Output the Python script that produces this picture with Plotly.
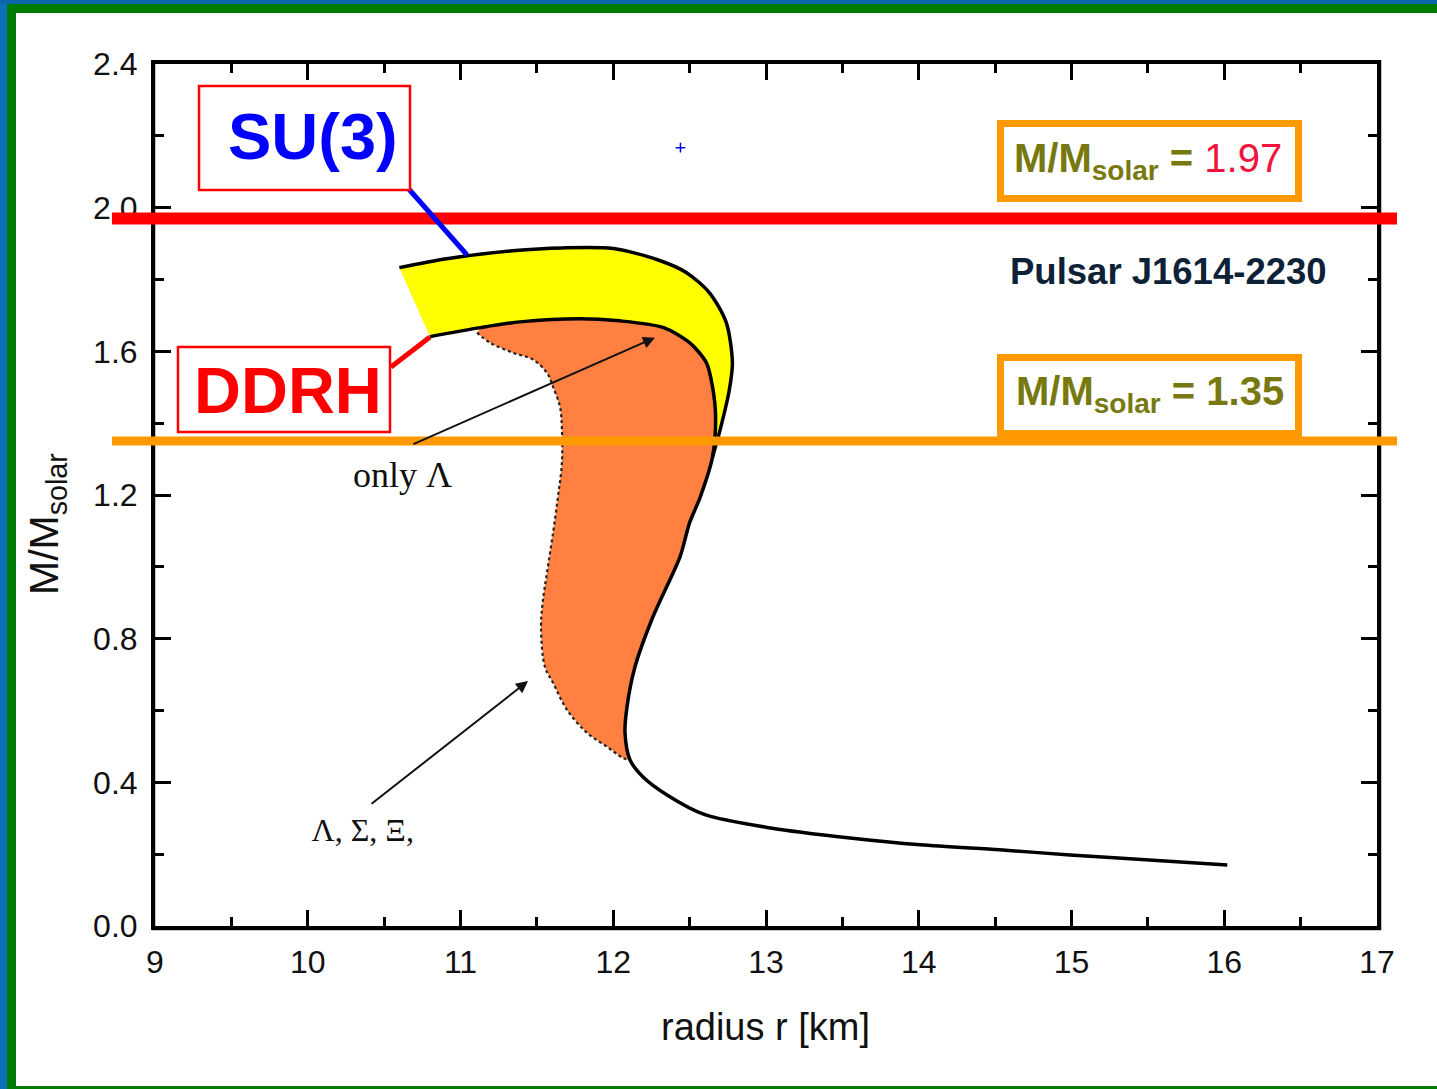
import plotly.graph_objects as go

# ---- mass-radius data (radius in km, mass in solar masses) ----
# SU(3) model: upper branch of the band
r_su3 = [10.60, 10.91, 11.34, 11.67, 12.00, 12.29, 12.48, 12.63, 12.74, 12.78, 12.76, 12.70, 12.65]
m_su3 = [1.833, 1.858, 1.880, 1.888, 1.886, 1.855, 1.819, 1.763, 1.680, 1.568, 1.493, 1.382, 1.306]

# DDRH model: full curve down to the low-mass tail
r_ddrh = [10.80, 11.13, 11.39, 11.78, 12.04, 12.33, 12.50, 12.61, 12.65, 12.67, 12.65, 12.57,
          12.50, 12.437, 12.26, 12.142, 12.09, 12.077, 12.11, 12.195, 12.352, 12.60, 13.03,
          13.55, 14.01, 14.53, 14.99, 15.51, 16.02]
m_ddrh = [1.641, 1.666, 1.682, 1.691, 1.685, 1.666, 1.624, 1.568, 1.501, 1.418, 1.306, 1.195,
          1.123, 1.028, 0.861, 0.721, 0.610, 0.538, 0.462, 0.415, 0.365, 0.310, 0.273,
          0.245, 0.226, 0.212, 0.198, 0.184, 0.170]

# Hyperon (Λ, Σ, Ξ) branch: inner edge of the shaded region
r_hyp = [11.108, 11.193, 11.344, 11.475, 11.566, 11.606, 11.651, 11.664, 11.664, 11.638,
         11.606, 11.566, 11.540, 11.527, 11.553, 11.606, 11.697, 11.828, 11.959, 12.064]
m_hyp = [1.652, 1.624, 1.596, 1.577, 1.540, 1.501, 1.446, 1.382, 1.290, 1.195,
         1.095, 0.983, 0.908, 0.833, 0.721, 0.677, 0.602, 0.538, 0.499, 0.468]

# Observed neutron-star masses (solar units)
pulsar_mass = 1.97
canonical_mass = 1.35
pulsar_name = "Pulsar J1614-2230"

x_ticks = [9, 10, 11, 12, 13, 14, 15, 16, 17]
y_ticks = [0.0, 0.4, 0.8, 1.2, 1.6, 2.0, 2.4]

# ---- page geometry ----
FIG_W, FIG_H = 1437, 1089
L, R, T, B = 155, 1377, 64, 926
PW, PH = R - L, B - T


def xp(px):
    return (px - L) / PW


def yp(py):
    return (B - py) / PH


SANS = "Liberation Sans, Arial, sans-serif"
SERIF = "Liberation Serif, Times New Roman, serif"
OLIVE = "#77780f"

fig = go.Figure()

# yellow band between SU(3) and DDRH upper branches
n_top = r_ddrh.index(12.65, 8)
band_x = r_su3 + r_ddrh[:n_top + 1][::-1]
band_y = m_su3 + m_ddrh[:n_top + 1][::-1]
fig.add_trace(go.Scatter(x=band_x, y=band_y, fill="toself", fillcolor="#ffff00",
                         mode="lines", line=dict(width=0, shape="spline", smoothing=0.6),
                         hoverinfo="skip", showlegend=False))

# orange region covered by the hyperon branches
n_low = r_ddrh.index(12.11)
hyp_x = r_ddrh[1:n_low + 1] + r_hyp[::-1]
hyp_y = m_ddrh[1:n_low + 1] + m_hyp[::-1]
fig.add_trace(go.Scatter(x=hyp_x, y=hyp_y, fill="toself", fillcolor="#ff8040",
                         mode="lines", line=dict(width=0, shape="spline", smoothing=0.6),
                         hoverinfo="skip", showlegend=False))

# dotted inner edge
fig.add_trace(go.Scatter(x=r_hyp + [r_ddrh[n_low]], y=m_hyp + [m_ddrh[n_low]], mode="lines",
                         line=dict(color="#222222", width=2.2, dash="dot", shape="spline"),
                         hoverinfo="skip", showlegend=False))

# model curves
fig.add_trace(go.Scatter(x=r_su3, y=m_su3, mode="lines",
                         line=dict(color="black", width=3.5, shape="spline", smoothing=0.8),
                         hoverinfo="skip", showlegend=False))
fig.add_trace(go.Scatter(x=r_ddrh, y=m_ddrh, mode="lines",
                         line=dict(color="black", width=3.5, shape="spline", smoothing=0.8),
                         hoverinfo="skip", showlegend=False))

# small marker near the top
fig.add_trace(go.Scatter(x=[12.44], y=[2.167], mode="markers",
                         marker=dict(symbol="cross-thin", size=7, line=dict(color="#0000ff", width=1.5)),
                         hoverinfo="skip", showlegend=False))

# composition labels
fig.add_trace(go.Scatter(x=[10.62, 10.36], y=[1.248, 0.259], mode="text",
                         text=["only Λ", "Λ, Σ, Ξ,"],
                         textfont=dict(family=SERIF, size=[36, 32], color="#111111"),
                         hoverinfo="skip", showlegend=False))

shapes = []
# page frame
shapes += [
    dict(type="rect", xref="paper", yref="paper", x0=xp(0), x1=xp(7), y0=yp(FIG_H), y1=yp(0),
         fillcolor="#0a70b8", line=dict(width=0), layer="above"),
    dict(type="rect", xref="paper", yref="paper", x0=xp(0), x1=xp(FIG_W), y0=yp(4), y1=yp(0),
         fillcolor="#0a66a8", line=dict(width=0), layer="above"),
    dict(type="rect", xref="paper", yref="paper", x0=xp(7), x1=xp(16), y0=yp(FIG_H), y1=yp(4),
         fillcolor="#007d00", line=dict(width=0), layer="above"),
    dict(type="rect", xref="paper", yref="paper", x0=xp(7), x1=xp(FIG_W), y0=yp(13), y1=yp(4),
         fillcolor="#007d00", line=dict(width=0), layer="above"),
    dict(type="rect", xref="paper", yref="paper", x0=xp(7), x1=xp(FIG_W), y0=yp(FIG_H), y1=yp(1086),
         fillcolor="#007d00", line=dict(width=0), layer="above"),
]
# soft grey shadow of the plot frame
shapes.append(dict(type="rect", xref="paper", yref="paper", x0=xp(L - 1), x1=xp(R + 3),
                   y0=yp(B + 3), y1=yp(T - 2), line=dict(color="#8a8a8a", width=3), layer="below"))

# mass limits
shapes.append(dict(type="line", xref="paper", yref="y", x0=xp(112), x1=xp(1397),
                   y0=pulsar_mass, y1=pulsar_mass, line=dict(color="#ff0000", width=12), layer="above"))
shapes.append(dict(type="line", xref="paper", yref="y", x0=xp(112), x1=xp(1397),
                   y0=canonical_mass, y1=canonical_mass, line=dict(color="#ff9900", width=9), layer="above"))

# connectors to model labels
shapes.append(dict(type="line", xref="paper", yref="paper", x0=xp(407), y0=yp(187), x1=xp(467), y1=yp(255),
                   line=dict(color="#0000ff", width=5), layer="above"))
shapes.append(dict(type="line", xref="paper", yref="paper", x0=xp(391), y0=yp(367), x1=xp(430), y1=yp(337),
                   line=dict(color="#ff0000", width=5), layer="above"))

# label boxes
shapes.append(dict(type="rect", xref="paper", yref="paper", x0=xp(199), x1=xp(410), y0=yp(190), y1=yp(86),
                   line=dict(color="#ff0000", width=2.5), fillcolor="white", layer="above"))
shapes.append(dict(type="rect", xref="paper", yref="paper", x0=xp(178), x1=xp(390), y0=yp(432), y1=yp(347),
                   line=dict(color="#ff0000", width=2.5), fillcolor="white", layer="above"))
shapes.append(dict(type="rect", xref="paper", yref="paper", x0=xp(1000.5), x1=xp(1298.5), y0=yp(198.5), y1=yp(123.5),
                   line=dict(color="#ff9900", width=7), fillcolor="white", layer="above"))
shapes.append(dict(type="rect", xref="paper", yref="paper", x0=xp(1000.5), x1=xp(1298.5), y0=yp(433.5), y1=yp(357.5),
                   line=dict(color="#ff9900", width=7), fillcolor="white", layer="above"))


def label(text, x, y, size, color, family=SANS, **kw):
    return dict(text=text, xref="paper", yref="paper", x=xp(x), y=yp(y),
                xanchor="center", yanchor="middle", showarrow=False,
                font=dict(family=family, size=size, color=color), **kw)


annotations = [
    label("<b>SU(3)</b>", 313, 136, 65, "#0000ff"),
    label("<b>DDRH</b>", 288, 391, 65, "#ff0000"),
    label("<b>M/M<sub>solar</sub> = </b><span style='color:#f0143c'>%.2f</span>" % pulsar_mass,
          1148, 161, 40, OLIVE),
    label("<b>M/M<sub>solar</sub> = %.2f</b>" % canonical_mass, 1150, 394, 40, OLIVE),
    label("<b>%s</b>" % pulsar_name, 1168, 271, 36.5, "#0d2236"),
    # arrows pointing to the hyperon regions
    dict(text="", x=12.273, y=1.638, ax=10.682, ay=1.340, xref="x", yref="y", axref="x", ayref="y",
         showarrow=True, arrowhead=2, arrowsize=1.2, arrowwidth=2, arrowcolor="#111111"),
    dict(text="", x=11.442, y=0.682, ax=10.408, ay=0.337, xref="x", yref="y", axref="x", ayref="y",
         showarrow=True, arrowhead=2, arrowsize=1.2, arrowwidth=2, arrowcolor="#111111"),
    # axis titles
    label("radius r [km]", 765, 1027, 38, "#111111"),
    label("M/M<sub>solar</sub>", 47, 524, 41, "#111111", textangle=-90),
]

axis_common = dict(showline=True, linecolor="black", linewidth=4, mirror="ticks",
                   ticks="inside", ticklen=16, tickwidth=3, tickcolor="black",
                   showgrid=False, zeroline=False,
                   tickfont=dict(family=SANS, size=32, color="#111111"))

fig.update_layout(
    width=FIG_W, height=FIG_H, autosize=False,
    margin=dict(l=L, r=FIG_W - R, t=T, b=FIG_H - B),
    paper_bgcolor="white", plot_bgcolor="white",
    xaxis=dict(range=[9, 17], tickvals=x_ticks, ticktext=[str(v) for v in x_ticks],
               minor=dict(ticks="inside", ticklen=9, tickwidth=3, tickcolor="black", dtick=0.5),
               ticklabelstandoff=5, **axis_common),
    yaxis=dict(range=[0, 2.4], tickvals=y_ticks, ticktext=["%.1f" % v for v in y_ticks],
               minor=dict(ticks="inside", ticklen=9, tickwidth=3, tickcolor="black", dtick=0.2),
               ticklabelstandoff=7, **axis_common),
    shapes=shapes, annotations=annotations, showlegend=False,
)

fig.write_html("out.html")
